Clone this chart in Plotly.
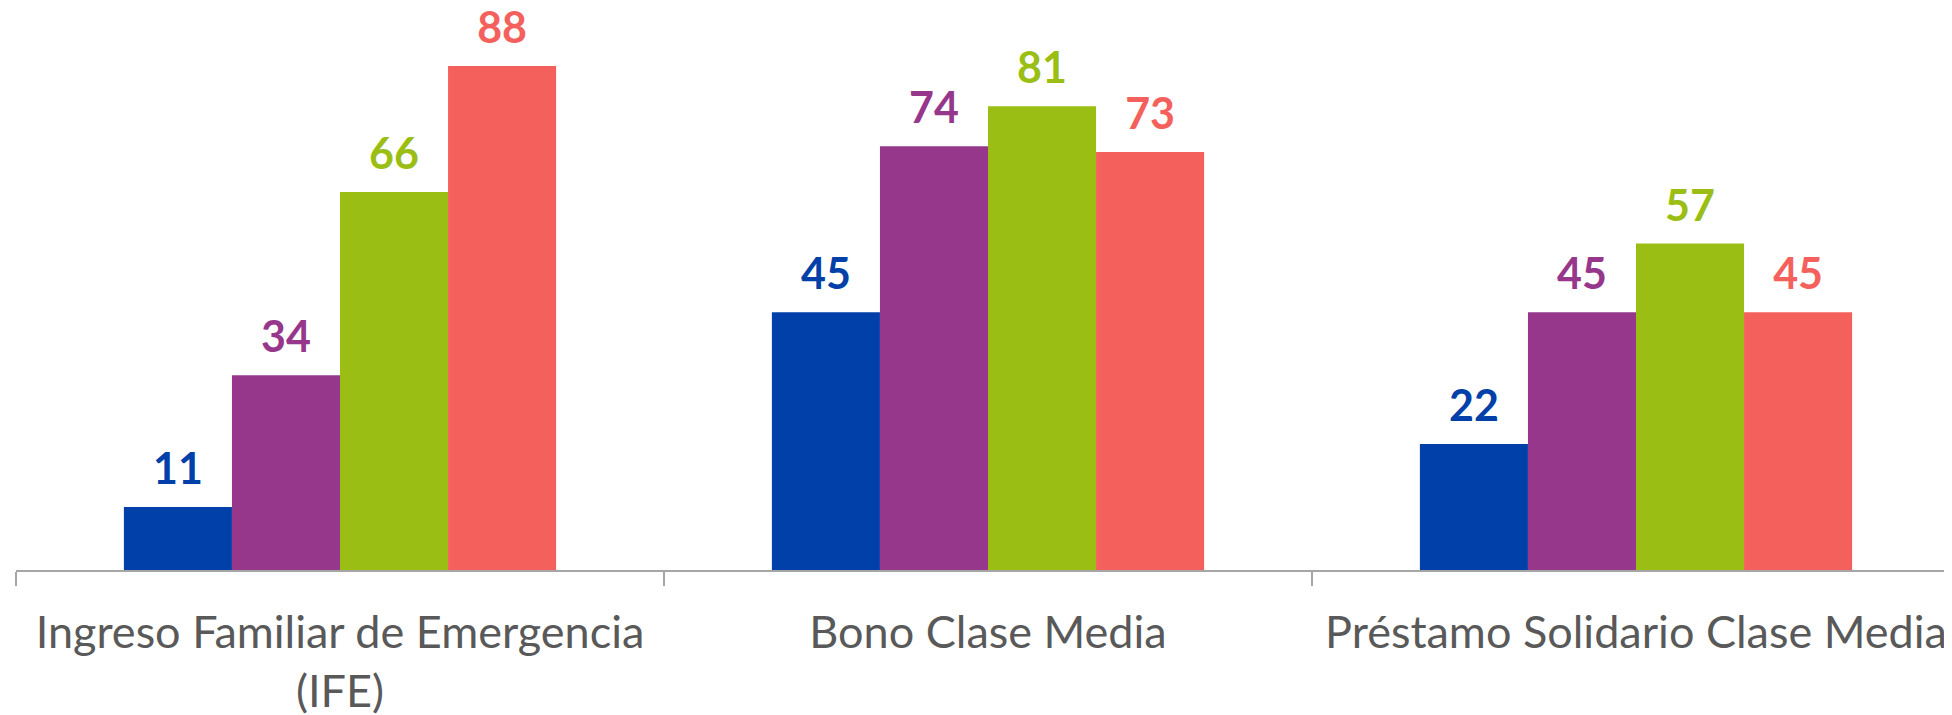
import plotly.graph_objects as go

categories = ["Ingreso Familiar de Emergencia<br>(IFE)", "Bono Clase Media", "Préstamo Solidario Clase Media"]
series_names = ["Serie 1", "Serie 2", "Serie 3", "Serie 4"]
series_values = [
    [11, 45, 22],
    [34, 74, 45],
    [66, 81, 57],
    [88, 73, 45],
]
colors = ["#0040A8", "#96378C", "#9BBE14", "#F4615D"]

LABEL_GAP = 1.9  # y units between bar top and value label

fig = go.Figure()
for i, (name, vals, col) in enumerate(zip(series_names, series_values, colors)):
    fig.add_trace(go.Bar(
        x=categories, y=vals, name=name, offsetgroup=str(i),
        marker=dict(color=col, line=dict(width=0)),
        hoverinfo="skip",
    ))
for i, (name, vals, col) in enumerate(zip(series_names, series_values, colors)):
    fig.add_trace(go.Bar(
        x=categories, y=[LABEL_GAP] * len(vals), base=vals, name=name + " label",
        offsetgroup=str(i), showlegend=False,
        marker=dict(color="rgba(0,0,0,0)", line=dict(width=0)),
        text=[str(v) for v in vals], textposition="outside",
        textfont=dict(family="Lato", size=43, color=col, weight="bold"),
        cliponaxis=False, hoverinfo="skip",
    ))

fig.update_layout(
    width=1952, height=715,
    margin=dict(l=8, r=0, t=30, b=153),
    barmode="group", bargap=0.333, bargroupgap=0,
    paper_bgcolor="white", plot_bgcolor="white",
    showlegend=False,
    xaxis=dict(
        type="category", range=[-0.5, 2.5],
        showline=True, linecolor="#A6A6A6", linewidth=2,
        ticks="outside", tickson="boundaries", ticklen=14, tickcolor="#A6A6A6", tickwidth=2,
        tickfont=dict(family="Lato", size=45, color="#595959"),
        ticklabelstandoff=22,
        showgrid=False, zeroline=False,
    ),
    yaxis=dict(range=[0, 92.9], visible=False, showgrid=False, zeroline=False),
)

fig.write_html("out.html")
